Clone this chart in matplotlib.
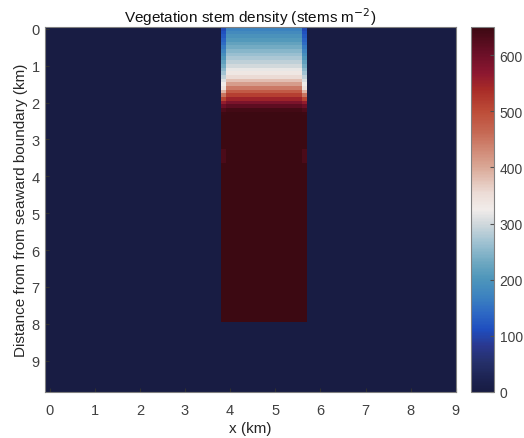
import numpy as np
import matplotlib
matplotlib.use('Agg')
import matplotlib.pyplot as plt
from matplotlib.colors import LinearSegmentedColormap

plt.rcParams['font.family'] = ['Liberation Sans', 'DejaVu Sans']

# model grid (km), cell centres
dx = 0.1
dy = 0.1
x_centres = np.round(np.arange(-0.05, 9.0, dx), 2)
y_centres = np.round(np.arange(0.0, 9.85, dy), 2)

# vegetated strip
patch_x = (3.8, 5.7)
patch_bottom = 7.95
plateau_density = 650

# stem density down the middle of the strip, rows y = 0.0, 0.1, ...
centre_profile = [172, 184, 196, 208, 222, 236, 250, 263, 276, 289, 302, 318,
                  335, 355, 380, 410, 445, 480, 515, 550, 585, 615, 640]
# outermost columns lag behind the middle
edge_profile = [105, 115, 125, 135, 147, 160, 175, 190, 205, 220, 236, 252,
                268, 288, 308, 325, 345, 390, 450, 510, 560, 600, 630, 645]
edge_spot_rows = (3.3, 3.6)
edge_spot_density = 634

cbar_ticks = [0, 100, 200, 300, 400, 500, 600]

# balance-style diverging map
balance = LinearSegmentedColormap.from_list('balance', [
    (0.000, '#181c43'), (0.032, '#1c2250'), (0.080, '#25306a'),
    (0.126, '#2a3890'), (0.170, '#1f4ebf'), (0.215, '#2d68c4'),
    (0.260, '#3c82c0'), (0.310, '#4e96bb'), (0.350, '#6aa6c0'),
    (0.410, '#a0c2d2'), (0.460, '#d0d8dc'), (0.500, '#f1ecea'),
    (0.545, '#ecdcd6'), (0.620, '#d9a593'), (0.680, '#cd7e6a'),
    (0.710, '#c66a55'), (0.770, '#bd4c38'), (0.830, '#a82b27'),
    (0.875, '#8c1730'), (0.930, '#6a0f27'), (1.000, '#3c0912')])

density = np.zeros((len(y_centres), len(x_centres)))
cols = np.where((x_centres > patch_x[0]) & (x_centres < patch_x[1]))[0]
rows = np.where(y_centres < patch_bottom)[0]
density[np.ix_(rows, cols)] = plateau_density
density[:len(centre_profile), cols] = np.array(centre_profile)[:, None]
for c in (cols[0], cols[-1]):
    density[:len(edge_profile), c] = edge_profile
    spot = (y_centres >= edge_spot_rows[0]) & (y_centres <= edge_spot_rows[1])
    density[spot, c] = edge_spot_density

fig = plt.figure(figsize=(5.24, 4.39), dpi=100)
ax = fig.add_axes([0.086, 0.105, 0.784, 0.831])
im = ax.imshow(density, cmap=balance, vmin=0, vmax=plateau_density,
               extent=[x_centres[0] - dx / 2, x_centres[-1] + dx / 2,
                       y_centres[-1] + dy / 2, y_centres[0] - dy / 2],
               aspect='auto', interpolation='nearest')
ax.set_xticks(range(10))
ax.set_yticks(range(10))
ax.tick_params(direction='in', length=3, color='#303030', labelcolor='#404040',
               labelsize=10.5)
ax.tick_params(axis='x', pad=8)
ax.tick_params(axis='y', pad=4)
for s in ax.spines.values():
    s.set_color('#808080')
    s.set_linewidth(0.8)
ax.set_xlabel('x (km)', fontsize=11, color='#262626', labelpad=3)
ax.set_ylabel('Distance from from seaward boundary (km)', fontsize=11,
              color='#262626', labelpad=2)
ax.set_title('Vegetation stem density (stems m$^{-2}$)', fontsize=11,
             color='#111111', pad=3)

cax = fig.add_axes([0.899, 0.105, 0.044, 0.831])
cb = fig.colorbar(im, cax=cax, ticks=cbar_ticks)
cb.outline.set_edgecolor('#808080')
cb.outline.set_linewidth(0.8)
cax.tick_params(direction='in', length=3, color='#505050', labelcolor='#404040',
                labelsize=10, pad=4)

fig.savefig('out.png', dpi=100)
